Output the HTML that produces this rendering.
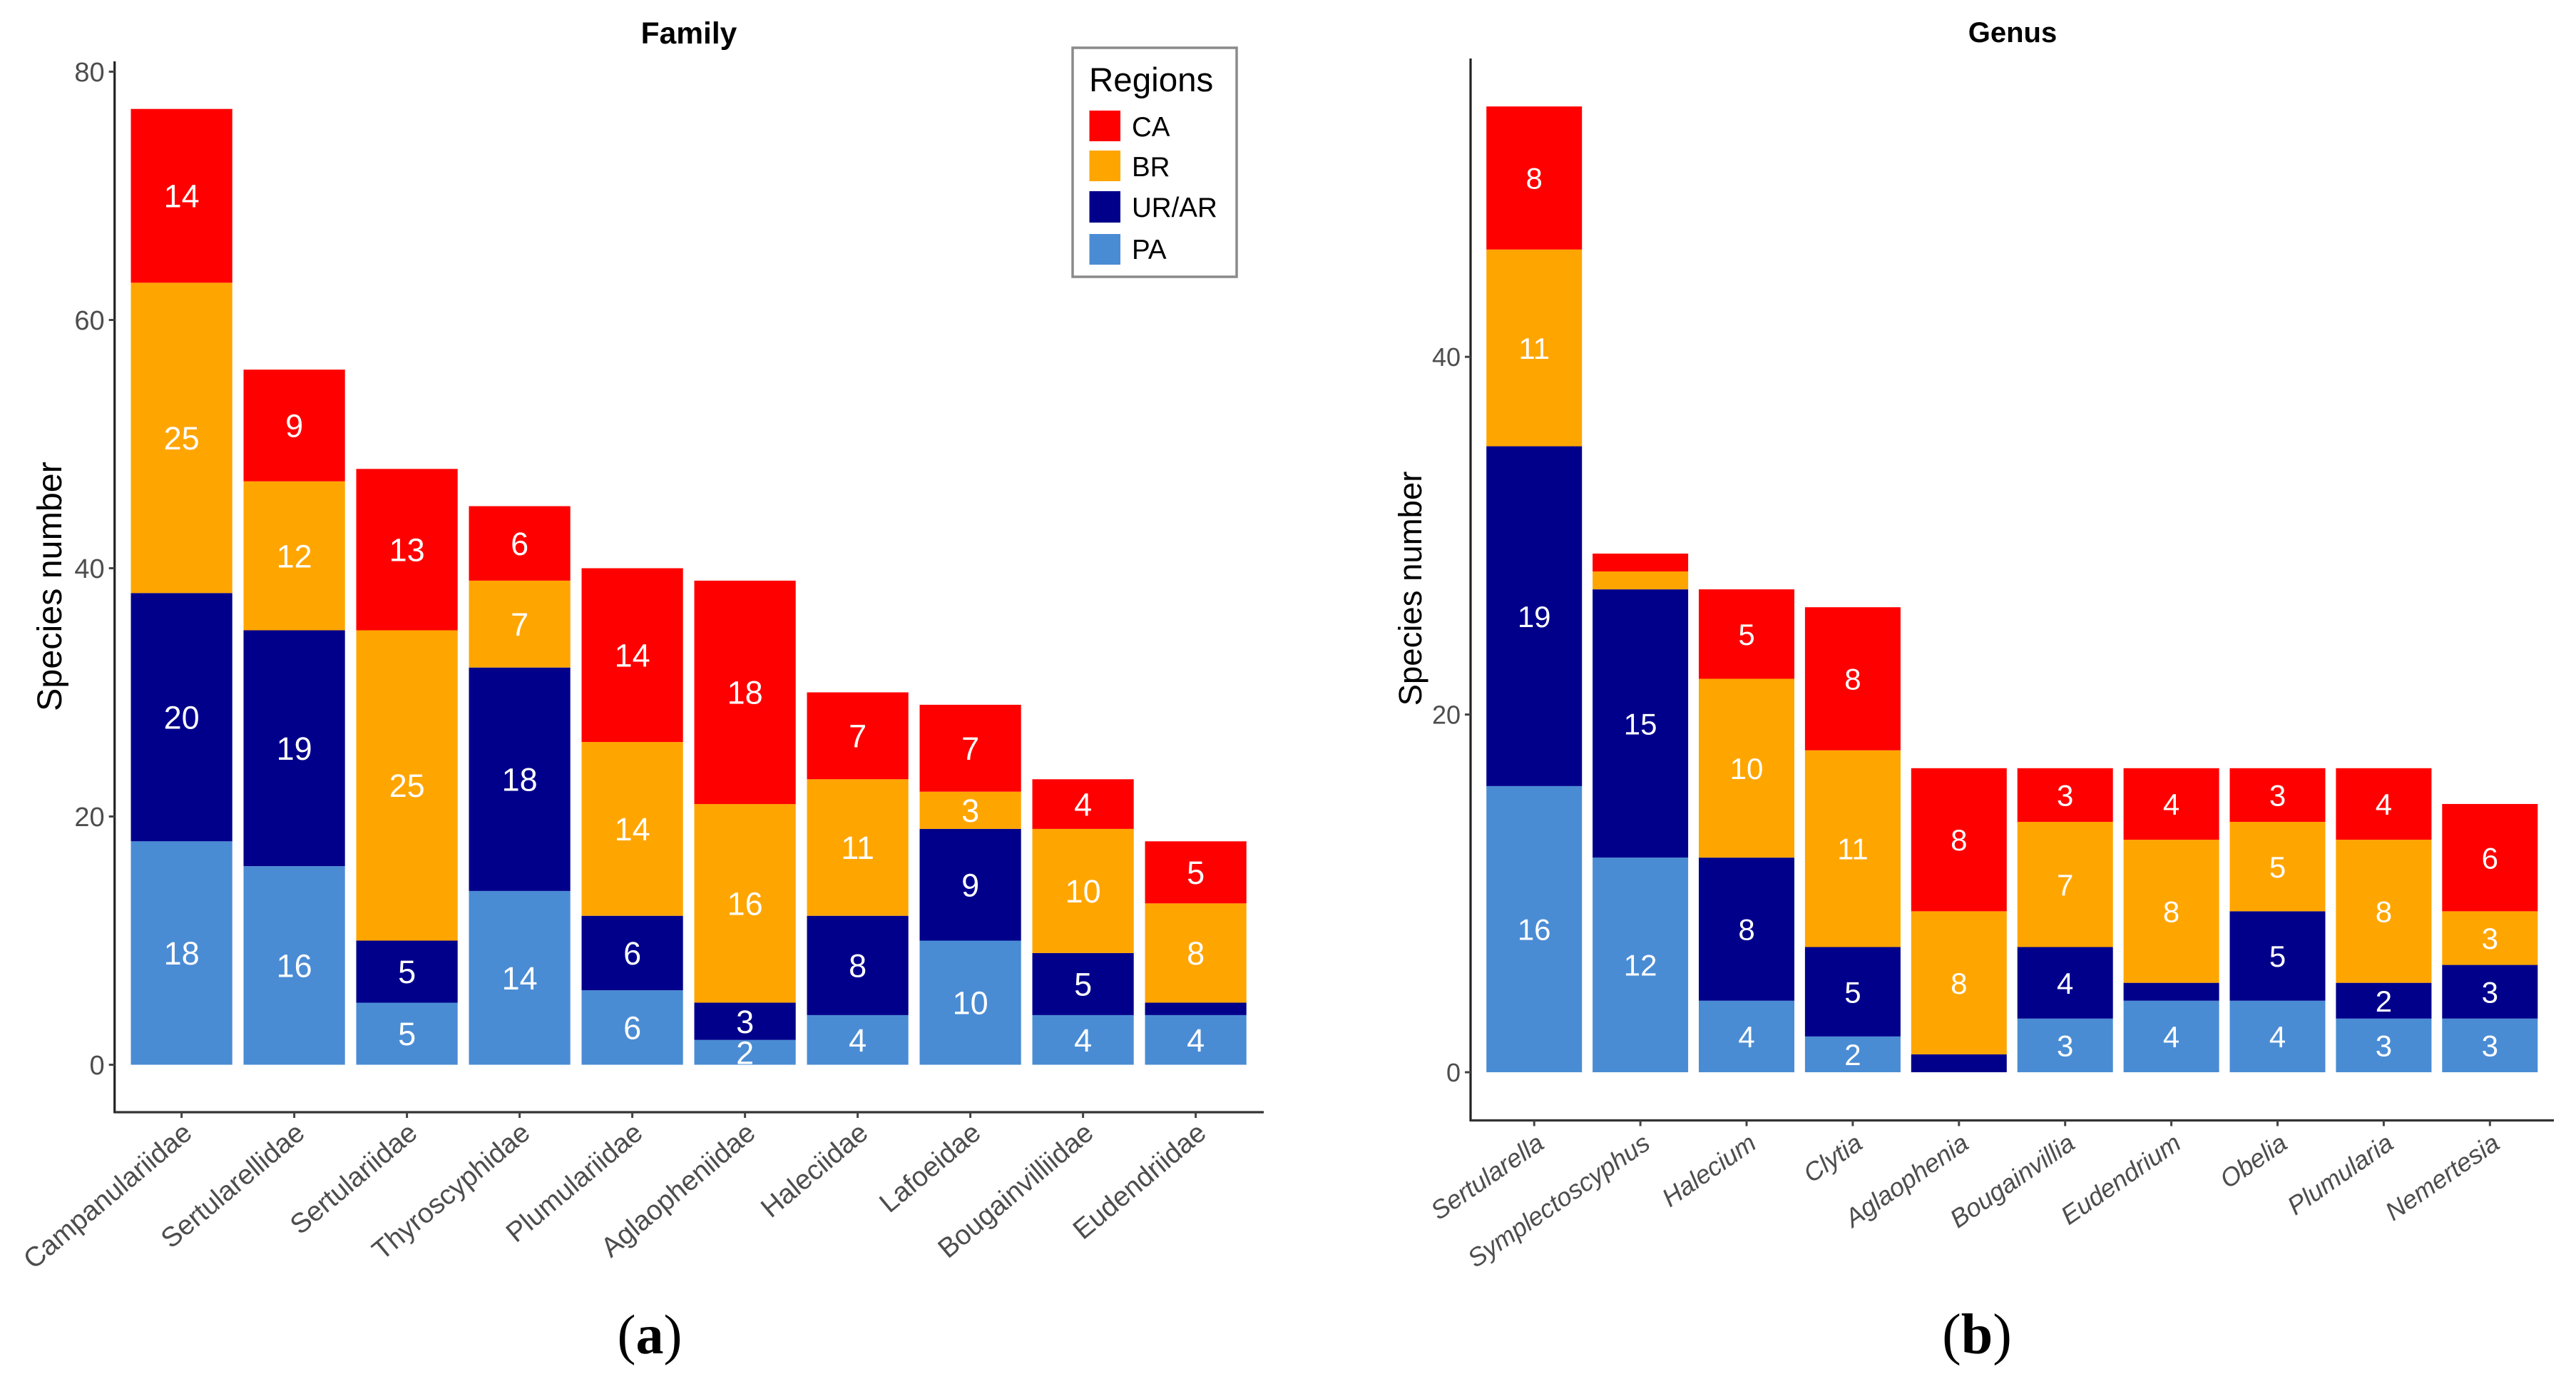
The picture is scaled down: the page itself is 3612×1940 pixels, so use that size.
<!DOCTYPE html>
<html lang="en">
<head>
<meta charset="utf-8">
<title>Species number per family and genus by region</title>
<style>
html,body{margin:0;padding:0;background:#fff;}
svg{display:block;font-family:"Liberation Sans",Arial,sans-serif;}
</style>
</head>
<body>
<svg id="figure" xmlns="http://www.w3.org/2000/svg" width="3612" height="1940" viewBox="0 0 3612 1940">
  <rect x="0" y="0" width="3612" height="1940" fill="#fff"/>
  <g id="panel-a">
    <text x="966" y="61" font-size="42.5" font-weight="bold" text-anchor="middle" fill="#000">Family</text>
    <text transform="translate(86 822) rotate(-90)" font-size="48.4" text-anchor="middle" fill="#000">Species number</text>
  </g>
  <g id="panel-b">
    <text x="2822" y="59" font-size="40" font-weight="bold" text-anchor="middle" fill="#000">Genus</text>
    <text transform="translate(1993 825) rotate(-90)" font-size="45.5" text-anchor="middle" fill="#000">Species number</text>
  </g>
  <g>
    <rect x="1504" y="67" width="230" height="321" fill="#fff" stroke="#8a8a8a" stroke-width="3.5"/>
    <text x="1527" y="128" font-size="47.5" fill="#000">Regions</text>
    <rect x="1527.5" y="155" width="43.5" height="43" fill="#ff0000"/>
    <text x="1587" y="191" font-size="38.5" fill="#000">CA</text>
    <rect x="1527.5" y="211" width="43.5" height="43" fill="#ffa500"/>
    <text x="1587" y="247" font-size="38.5" fill="#000">BR</text>
    <rect x="1527.5" y="268" width="43.5" height="44" fill="#00008b"/>
    <text x="1587" y="304" font-size="38.5" fill="#000">UR/AR</text>
    <rect x="1527.5" y="328" width="43.5" height="43" fill="#4a8cd4"/>
    <text x="1587" y="363" font-size="38.5" fill="#000">PA</text>
  </g>
  <text x="911" y="1897" font-size="78" text-anchor="middle" font-family="'Liberation Serif',serif" fill="#000">(<tspan font-weight="bold">a</tspan>)</text>
  <text x="2772" y="1897" font-size="80" text-anchor="middle" font-family="'Liberation Serif',serif" fill="#000">(<tspan font-weight="bold">b</tspan>)</text>
</svg>
<script>
const familyCategories = ['Campanulariidae','Sertularellidae','Sertulariidae','Thyroscyphidae','Plumulariidae','Aglaopheniidae','Haleciidae','Lafoeidae','Bougainvilliidae','Eudendriidae'];
const familyPA = [18,16,5,14,6,2,4,10,4,4];
const familyUR = [20,19,5,18,6,3,8,9,5,1];
const familyBR = [25,12,25,7,14,16,11,3,10,8];
const familyCA = [14,9,13,6,14,18,7,7,4,5];
const familyTicks = [0,20,40,60,80];

const genusCategories = ['Sertularella','Symplectoscyphus','Halecium','Clytia','Aglaophenia','Bougainvillia','Eudendrium','Obelia','Plumularia','Nemertesia'];
const genusPA = [16,12,4,2,0,3,4,4,3,3];
const genusUR = [19,15,8,5,1,4,1,5,2,3];
const genusBR = [11,1,10,11,8,7,8,5,8,3];
const genusCA = [8,1,5,8,8,3,4,3,4,6];
const genusTicks = [0,20,40];

const seriesNames = ['pa','ur-ar','br','ca'];
const seriesColors = ['#4a8cd4','#00008b','#ffa500','#ff0000'];
const NS = 'http://www.w3.org/2000/svg';

function make(tag, attrs, parent) {
  const node = document.createElementNS(NS, tag);
  for (const k in attrs) node.setAttribute(k, attrs[k]);
  parent.appendChild(node);
  return node;
}

function drawPanel(parent, prefix, cats, series, ticks, g) {
  const xScale = i => g.x0 + g.step * i;
  const yScale = v => g.y0 - g.unit * v;

  cats.forEach((cat, i) => {
    let base = 0;
    series.forEach((values, s) => {
      const v = values[i];
      if (v > 0) {
        const bar = make('rect', {x: xScale(i) - g.step * 0.45, y: yScale(base + v), width: g.step * 0.9, height: g.unit * v, fill: seriesColors[s]}, parent);
        
        
      }
      base += v;
    });
    base = 0;
    series.forEach((values, s) => {
      const v = values[i];
      if (v > 1) {
        const label = make('text', {x: xScale(i), y: yScale(base + v / 2) + g.valueFont * 0.36, 'font-size': g.valueFont, 'text-anchor': 'middle', fill: '#fff'}, parent);
        
        
        label.textContent = v;
      }
      base += v;
    });
  });

  const yAxis = make('line', {x1: g.axisX, x2: g.axisX, y1: g.axisTop, y2: g.axisBottom + 1.5, stroke: '#222', 'stroke-width': 3.2}, parent);
  
  
  const xAxis = make('line', {x1: g.axisX, x2: g.axisRight, y1: g.axisBottom, y2: g.axisBottom, stroke: '#333', 'stroke-width': 3.2}, parent);
  
  

  ticks.forEach(t => {
    const mark = make('line', {x1: g.axisX - 8, x2: g.axisX, y1: yScale(t), y2: yScale(t), stroke: '#444', 'stroke-width': 3}, parent);
    
    
    const label = make('text', {x: g.axisX - 14, y: yScale(t) + g.tickFont * 0.36, 'font-size': g.tickFont, 'text-anchor': 'end', fill: '#4d4d4d'}, parent);
    
    
    label.textContent = t;
  });

  cats.forEach((cat, i) => {
    const mark = make('line', {x1: xScale(i), x2: xScale(i), y1: g.axisBottom, y2: g.axisBottom + 8, stroke: '#444', 'stroke-width': 3}, parent);
    
    
    const label = make('text', {transform: 'translate(' + (xScale(i) + g.labelDx) + ' ' + g.labelY + ') rotate(' + g.labelAngle + ')', 'font-size': g.labelFont, 'font-style': g.labelStyle, 'text-anchor': 'end', fill: '#4d4d4d'}, parent);
    
    
    label.textContent = cat;
  });
}

drawPanel(document.getElementById('panel-a'), 'family', familyCategories, [familyPA, familyUR, familyBR, familyCA], familyTicks, {
  x0: 254.6, step: 158, y0: 1492.5, unit: 17.4, axisX: 160.7, axisTop: 86, axisBottom: 1559, axisRight: 1772,
  valueFont: 45, tickFont: 38, labelFont: 38.8, labelStyle: 'normal', labelAngle: -40, labelDx: 17, labelY: 1592
});
drawPanel(document.getElementById('panel-b'), 'genus', genusCategories, [genusPA, genusUR, genusBR, genusCA], genusTicks, {
  x0: 2151.2, step: 148.9, y0: 1503, unit: 25.07, axisX: 2062, axisTop: 82, axisBottom: 1570.5, axisRight: 3581,
  valueFont: 42, tickFont: 36, labelFont: 36, labelStyle: 'italic', labelAngle: -34.5, labelDx: 16, labelY: 1608
});
</script>
</body>
</html>
